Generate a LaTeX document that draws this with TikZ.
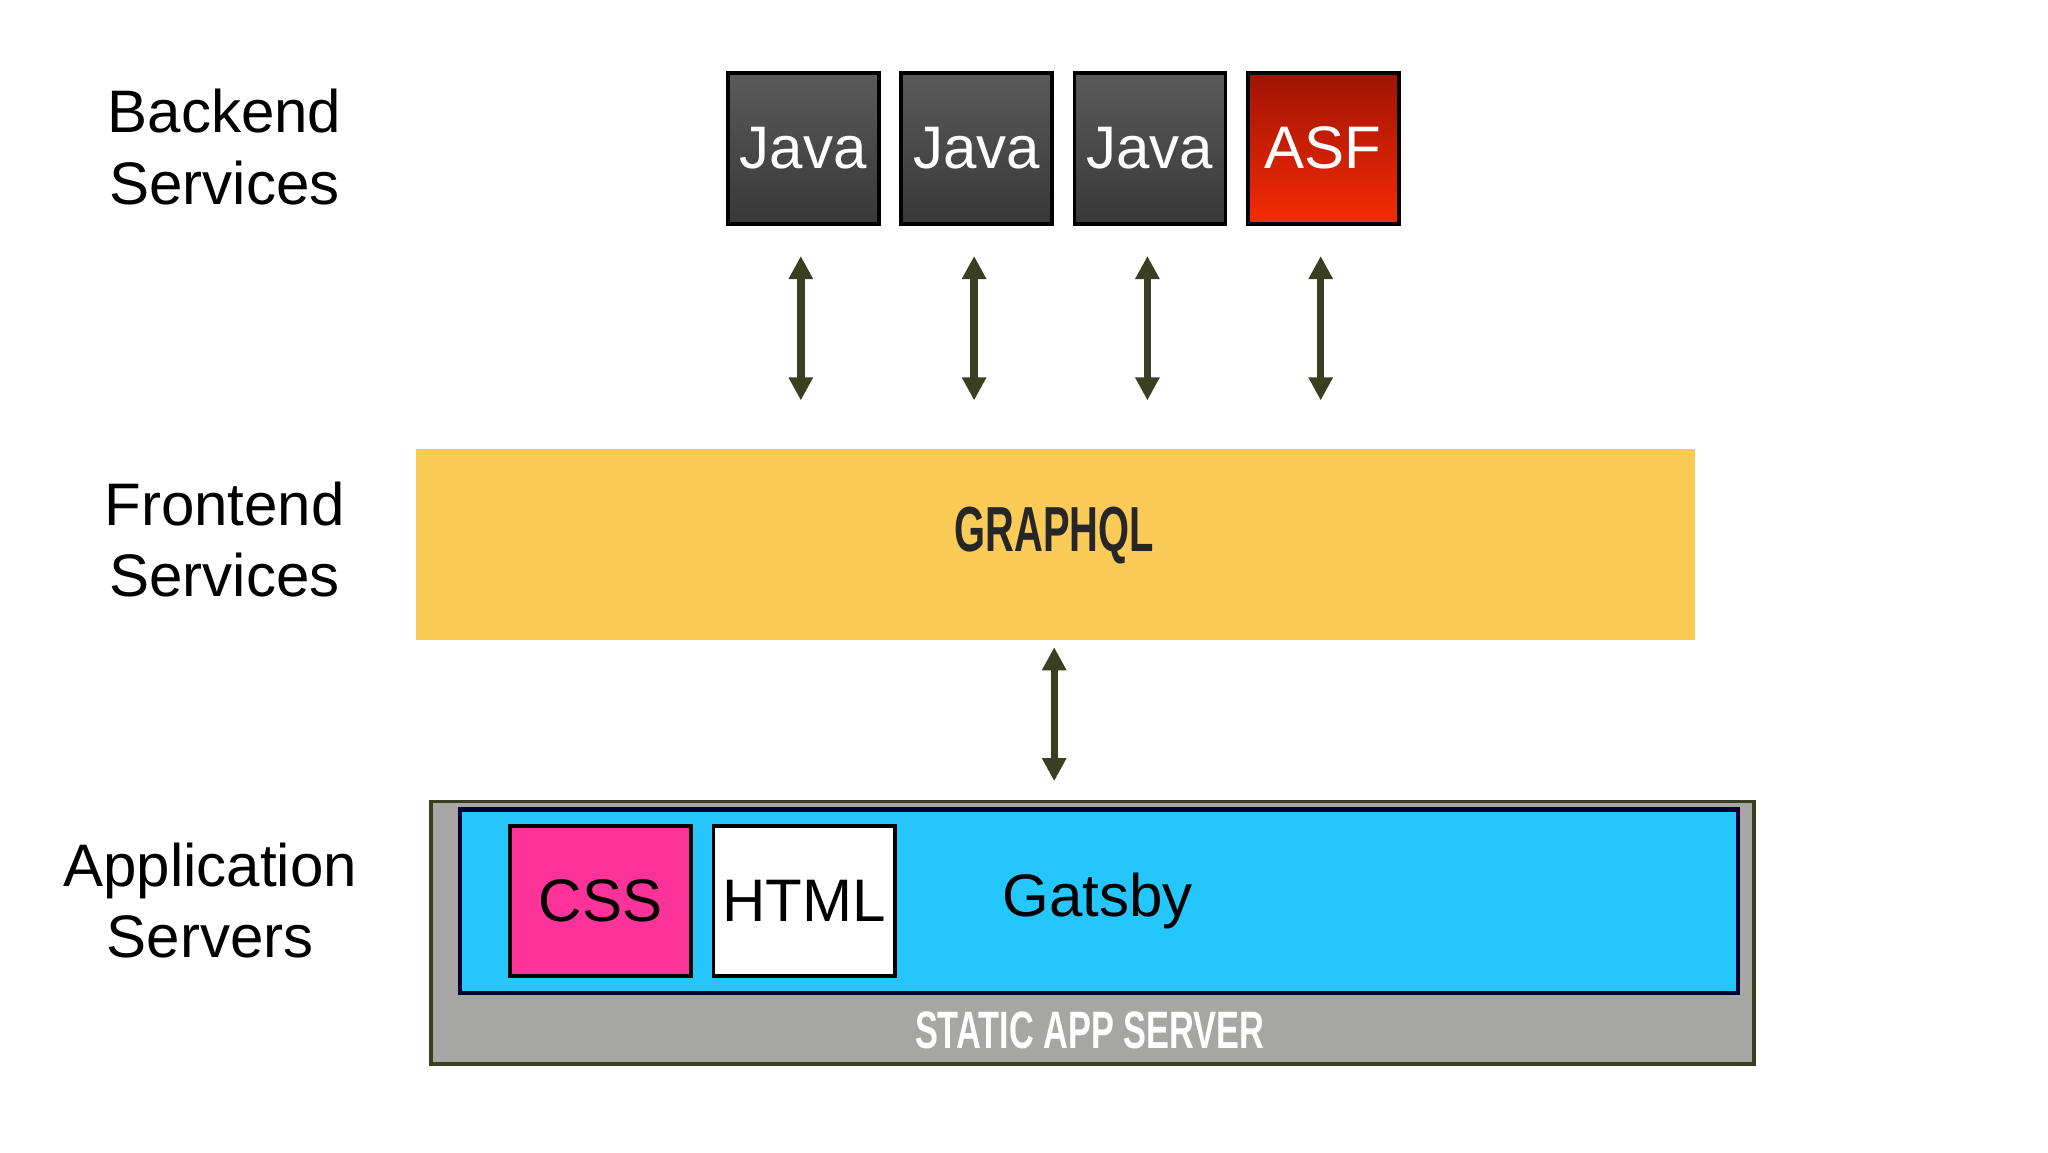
\documentclass[tikz,border=0pt]{standalone}
\usepackage{fontspec}
\setmainfont{Liberation Sans}
\usetikzlibrary{arrows.meta}
\definecolor{javatop}{HTML}{5A5A5A}
\definecolor{javabot}{HTML}{383838}
\definecolor{asftop}{HTML}{9E1404}
\definecolor{asfbot}{HTML}{F62A05}
\definecolor{gql}{HTML}{FBCB57}
\definecolor{arrowc}{HTML}{3A3F22}
\definecolor{srv}{HTML}{A6A7A5}
\definecolor{gatsby}{HTML}{25C6FB}
\definecolor{css}{HTML}{FD3399}
\tikzset{
  box/.style={draw=black, line width=0.8pt, anchor=north west, inner sep=0pt, text=white, font=\fontsize{13}{13}\selectfont},
  jbox/.style={box, top color=javatop, bottom color=javabot, minimum width=1.15cm, minimum height=1.15cm},
  lbl/.style={align=center, font=\fontsize{13}{15.5}\selectfont},
  link/.style={arrowc, line width=1.6pt, {Triangle[length=5pt,width=5pt]}-{Triangle[length=5pt,width=5pt]}},
  cond/.style={font=\bfseries\fontsize{12}{12}\selectfont}
}
\begin{document}
\begin{tikzpicture}[x=0.01cm, y=-0.01cm]
\useasboundingbox (0,0) rectangle (1560,877.5);
% labels
\node[lbl] (lb) at (171,112) {Backend\\Services};
\node[lbl] (lf) at (171,411) {Frontend\\Services};
\node[lbl] (la) at (160,686) {Application\\Servers};
% backend boxes
\node[jbox] (j1) at (553,54) {Java};
\node[jbox] (j2) at (685,54) {Java};
\node[jbox] (j3) at (817,54) {Java};
\node[box, top color=asftop, bottom color=asfbot, minimum width=1.15cm, minimum height=1.15cm] (asf) at (949,54) {ASF};
% graphql
\node[anchor=north west, fill=gql, minimum width=9.74cm, minimum height=1.46cm, inner sep=0pt] (gq) at (316,341) {};
\node[cond, text=black!85] (gqt) at (803,408) {\scalebox{0.72}[1.15]{GRAPHQL}};
% arrows
\foreach \x/\n in {610/1, 742/2, 874/3, 1006/4} {
  \coordinate (t\n) at (\x,195);
  \coordinate (b\n) at (\x,305);
  \draw[link] (t\n) -- (b\n);
}
\coordinate (tc) at (803,493);
\coordinate (bc) at (803,595);
\draw[link] (tc) -- (bc);
% app server
\node[anchor=north west, fill=srv, draw=arrowc, line width=0.8pt, minimum width=10.07cm, minimum height=2.0cm, inner sep=0pt] (srv) at (327,609) {};
\node[anchor=north west, fill=gatsby, draw=black!80!blue, line width=0.9pt, minimum width=9.73cm, minimum height=1.4cm, inner sep=0pt] (gb) at (349,615) {};
\node[box, fill=css, text=black, minimum width=1.38cm, minimum height=1.14cm] (cs) at (387,628) {CSS};
\node[box, fill=white, text=black, minimum width=1.38cm, minimum height=1.14cm] (ht) at (542,628) {HTML};
\node[font=\fontsize{13}{13}\selectfont] (gt) at (836,686) {Gatsby};
\node[cond, text=white] (st) at (830,785) {\scalebox{0.62}[0.95]{STATIC APP SERVER}};
\end{tikzpicture}
\end{document}
